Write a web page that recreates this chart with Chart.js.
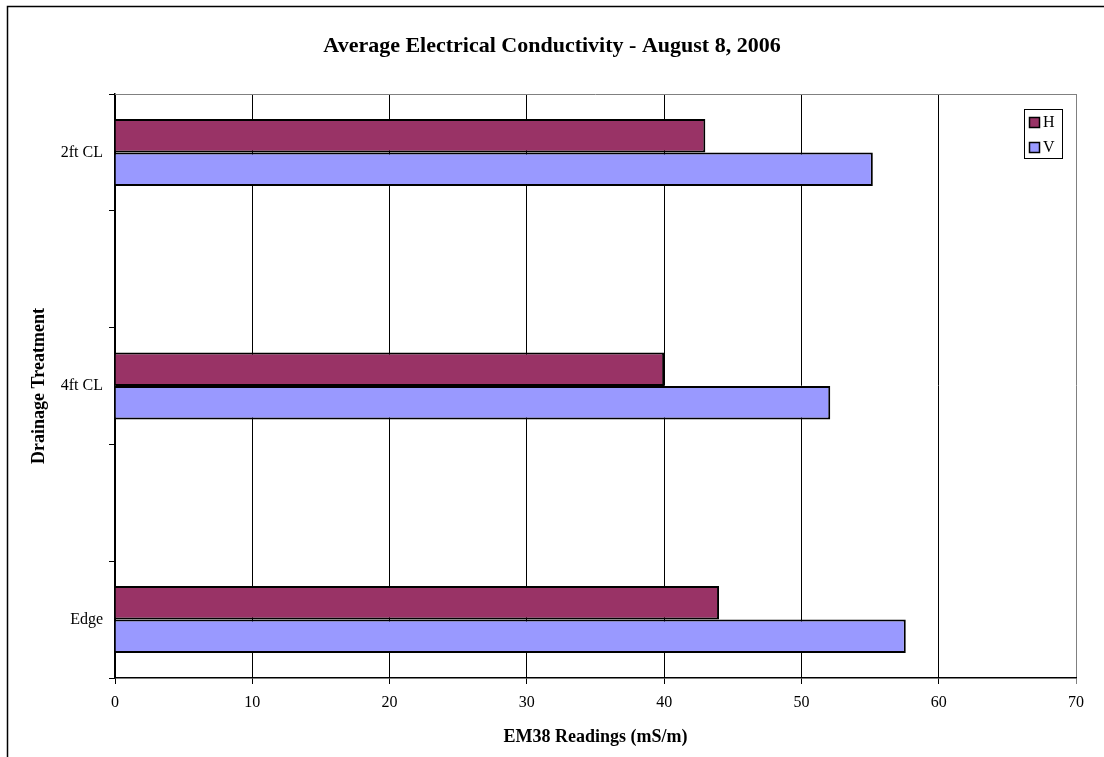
<!DOCTYPE html>
<html>
<head>
<meta charset="utf-8">
<script src="https://cdn.jsdelivr.net/npm/chart.js@4/dist/chart.umd.min.js"></script>
<style>
	html, body { margin: 0; padding: 0; background: #fff; }
	canvas { display: block; }
</style>
</head>
<body>
<canvas id="ecChart" width="1104" height="757"></canvas>
<script>
// categories (blank slots sit between the treatments, as in the original sheet)
const treatments = ['2ft CL', '', '4ft CL', '', 'Edge'];
const readingsH = [43.0, null, 40.0, null, 44.0];
const readingsV = [55.2, null, 52.1, null, 57.6];
const xTicks = [0, 10, 20, 30, 40, 50, 60, 70];

const serif = 'Liberation Serif';

// white page + the outer frame of the sheet
const framePlugin = {
	id: 'frame',
	beforeDraw(chart) {
		const ctx = chart.ctx;
		ctx.save();
		ctx.fillStyle = '#fff';
		ctx.fillRect(0, 0, chart.width, chart.height);
		ctx.strokeStyle = '#000';
		ctx.lineWidth = 1.5;
		ctx.strokeRect(7.5, 6.5, 1400, 1000);
		ctx.restore();
	},
	afterDatasetsDraw(chart) {
		// grey top edge of the plot area
		const a = chart.chartArea;
		const ctx = chart.ctx;
		ctx.save();
		ctx.strokeStyle = '#808080';
		ctx.lineWidth = 1;
		ctx.beginPath();
		ctx.moveTo(a.left, a.top + 0.5);
		ctx.lineTo(a.right, a.top + 0.5);
		ctx.stroke();
		ctx.restore();
	}
};

// boxed legend inside the plot, top right
const boxLegend = {
	id: 'boxLegend',
	afterDraw(chart) {
		const ctx = chart.ctx;
		const x = 1024, y = 109, w = 38, h = 49;
		ctx.save();
		ctx.fillStyle = '#fff';
		ctx.fillRect(x, y, w, h);
		ctx.strokeStyle = '#000';
		ctx.lineWidth = 1;
		ctx.strokeRect(x + 0.5, y + 0.5, w, h);
		ctx.font = '16px "' + serif + '"';
		ctx.textBaseline = 'middle';
		chart.data.datasets.forEach((ds, i) => {
			const cy = 122 + i * 25;
			ctx.fillStyle = ds.backgroundColor;
			ctx.fillRect(1029, cy - 5, 10, 10);
			ctx.strokeStyle = '#000';
			ctx.lineWidth = 1.5;
			ctx.strokeRect(1029.5, cy - 4.5, 10, 10);
			ctx.fillStyle = '#000';
			ctx.fillText(ds.label, 1043, cy + 1);
		});
		ctx.restore();
	}
};

const data = {
	labels: treatments,
	datasets: [
		{
			label: 'H',
			data: readingsH,
			backgroundColor: '#993366',
			borderColor: '#000',
			borderWidth: 2
		},
		{
			label: 'V',
			data: readingsV,
			backgroundColor: '#9999FF',
			borderColor: '#000',
			borderWidth: 2
		}
	]
};

const config = {
	type: 'bar',
	data: data,
	options: {
		indexAxis: 'y',
		responsive: false,
		animation: false,
		devicePixelRatio: 1,
		categoryPercentage: 0.574,
		barPercentage: 1,
		layout: {
			padding: { left: 28, right: 28, top: 0, bottom: 0 }
		},
		plugins: {
			legend: { display: false },
			tooltip: { enabled: false },
			title: {
				display: true,
				text: 'Average Electrical Conductivity - August 8, 2006',
				color: '#000',
				font: { family: serif, size: 22, weight: 'bold', lineHeight: 1.2 },
				padding: { top: 33, bottom: 34.6 }
			}
		},
		scales: {
			x: {
				type: 'linear',
				min: 0,
				max: 70,
				afterBuildTicks(scale) {
					scale.ticks = xTicks.map((v) => ({ value: v }));
				},
				afterFit(scale) {
					scale.height = 79;
				},
				grid: {
					color: (c) => (c.tick && c.tick.value === 70 ? '#808080' : '#000'),
					lineWidth: 1,
					tickLength: 6
				},
				border: { display: true, color: '#000', width: 1.5 },
				ticks: {
					color: '#000',
					font: { family: serif, size: 16 },
					padding: 9
				},
				title: {
					display: true,
					text: 'EM38 Readings (mS/m)',
					color: '#000',
					font: { family: serif, size: 18, weight: 'bold', lineHeight: 1.2 },
					padding: { top: 0, bottom: 9 }
				}
			},
			y: {
				type: 'category',
				afterFit(scale) {
					scale.width = 87;
				},
				grid: {
					drawOnChartArea: false,
					drawTicks: true,
					tickLength: 6,
					color: '#000'
				},
				border: { display: true, color: '#000', width: 1.5 },
				ticks: {
					color: '#000',
					font: { family: serif, size: 16 },
					padding: 6
				},
				title: {
					display: true,
					text: 'Drainage Treatment',
					color: '#000',
					font: { family: serif, size: 18, weight: 'bold', lineHeight: 1.2 },
					padding: { top: 1, bottom: 0 }
				}
			}
		}
	},
	plugins: [framePlugin, boxLegend]
};

const ecChart = new Chart(document.getElementById('ecChart'), config);
</script>
</body>
</html>
